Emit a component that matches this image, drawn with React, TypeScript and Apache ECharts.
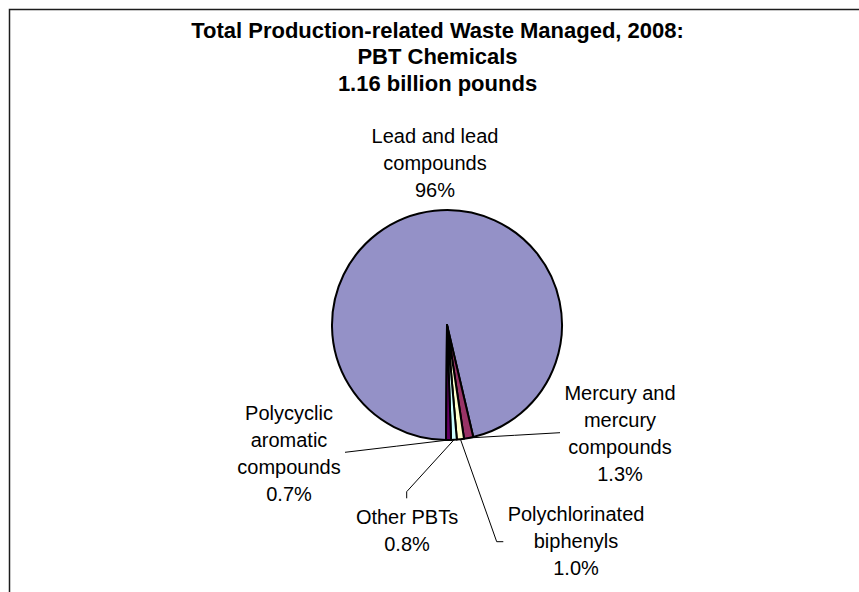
import React, { useEffect, useRef } from "react";
import * as echarts from "echarts";

// ---- data ----
const TITLE_LINES = [
  "Total Production-related Waste Managed, 2008:",
  "PBT Chemicals",
  "1.16 billion pounds",
];
const CATEGORIES = [
  "Lead and lead\ncompounds",
  "Mercury and\nmercury\ncompounds",
  "Polychlorinated\nbiphenyls",
  "Other PBTs",
  "Polycyclic\naromatic\ncompounds",
];
const PERCENTS = [96, 1.3, 1.0, 0.8, 0.7];

// ---- styling / layout ----
const COLORS = ["#9491C7", "#993366", "#FFFFCC", "#CCFFFF", "#660066"];
const FONT = "'Liberation Sans', Arial, Helvetica, sans-serif";
const CENTER: [number, number] = [447, 325];
const RADIUS = 115;
const LABEL_POS = [
  { x: 435, y: 163 },
  { x: 620, y: 433 },
  { x: 576, y: 541 },
  { x: 407, y: 530 },
  { x: 289, y: 453 },
];
const LINE_TAILS: (number[][] | null)[] = [
  null,
  [[560, 432.7]],
  [[496.7, 541.7], [503.3, 541.7]],
  [[406.7, 491.7], [406.7, 498.3]],
  [[345, 452.3]],
];

const fmtPct = (v: number) => (v >= 10 ? `${v}%` : `${v.toFixed(1)}%`);

export default function App() {
  const ref = useRef<HTMLDivElement>(null);
  useEffect(() => {
    if (!ref.current) return;
    const chart = echarts.init(ref.current, null, { renderer: "svg" });
    chart.setOption({
      animation: false,
      backgroundColor: "#fff",
      title: {
        text: TITLE_LINES.join("\n"),
        left: 437.5,
        top: 17,
        padding: 0,
        textAlign: "center",
        textStyle: {
          fontFamily: FONT,
          fontSize: 22,
          fontWeight: "bold",
          color: "#000",
          lineHeight: 26.5,
        },
      },
      graphic: [
        {
          type: "rect",
          silent: true,
          shape: { x: 9.5, y: 9.5, width: 900, height: 700 },
          style: { fill: "none", stroke: "#1c1c1c", lineWidth: 1.5 },
        },
      ],
      series: [
        {
          type: "pie",
          silent: true,
          center: CENTER,
          radius: RADIUS,
          startAngle: 269.5,
          clockwise: true,
          avoidLabelOverlap: false,
          itemStyle: { borderColor: "#000", borderWidth: 2 },
          label: {
            show: true,
            position: "outside",
            fontFamily: FONT,
            fontSize: 20,
            lineHeight: 27,
            color: "#000",
            formatter: (p: any) =>
              `${CATEGORIES[p.dataIndex]}\n${fmtPct(PERCENTS[p.dataIndex])}`,
          },
          labelLine: {
            show: true,
            length: 10,
            length2: 10,
            lineStyle: { color: "#000", width: 1 },
          },
          labelLayout: (params: any) => {
            const i = params.dataIndex;
            const pos = LABEL_POS[i];
            const out: any = {
              x: pos.x,
              y: pos.y,
              align: "center",
              verticalAlign: "middle",
            };
            const tail = LINE_TAILS[i];
            if (tail) {
              const start =
                params.labelLinePoints && params.labelLinePoints[0]
                  ? params.labelLinePoints[0]
                  : [CENTER[0], CENTER[1] + RADIUS];
              const pts = [start, ...tail];
              if (pts.length === 2) {
                pts.splice(1, 0, [
                  (pts[0][0] + pts[1][0]) / 2,
                  (pts[0][1] + pts[1][1]) / 2,
                ]);
              }
              out.labelLinePoints = pts;
            }
            return out;
          },
          data: CATEGORIES.map((name, i) => ({
            name,
            value: PERCENTS[i],
            itemStyle: { color: COLORS[i] },
            labelLine: { show: i !== 0 },
          })),
        },
      ],
    });
    return () => chart.dispose();
  }, []);
  return (
    <div
      ref={ref}
      style={{ position: "absolute", left: 0, top: 0, width: 859, height: 592 }}
    />
  );
}
